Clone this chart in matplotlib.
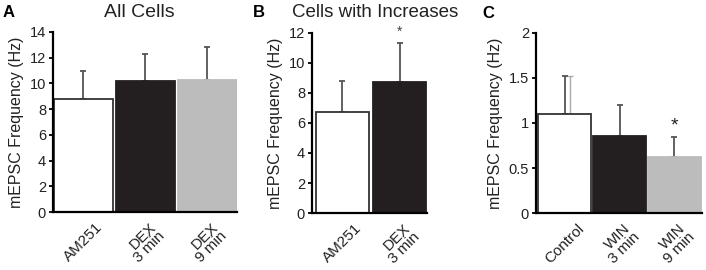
import matplotlib.pyplot as plt

plt.rcParams['font.family'] = ['Liberation Sans', 'DejaVu Sans']

# panel A: all cells
a_labels = ['AM251', 'DEX\n3 min', 'DEX\n9 min']
a_means = [8.8, 10.2, 10.3]
a_errs = [2.2, 2.1, 2.55]

# panel B: cells with increases
b_labels = ['AM251', 'DEX\n3 min']
b_means = [6.7, 8.7]
b_errs = [2.1, 2.6]

# panel C
c_labels = ['Control', 'WIN\n3 min', 'WIN\n9 min']
c_means = [1.1, 0.85, 0.62]
c_errs = [0.42, 0.35, 0.22]

face = ['white', '#231f20', '#bcbcbc']
edge = ['#333333', '#231f20', '#bcbcbc']

fig = plt.figure(figsize=(7.06, 2.70), dpi=100)
axA = fig.add_axes([0.0751, 0.2148, 0.2606, 0.6667])
axB = fig.add_axes([0.4419, 0.2111, 0.1629, 0.6667])
axC = fig.add_axes([0.7592, 0.2111, 0.2351, 0.6667])


def panel(ax, labels, means, errs, width, ymax, yticks, yticklabels, xlim):
    x = list(range(len(means)))
    ax.bar(x, means, width=width, color=face[:len(means)],
           edgecolor=edge[:len(means)], linewidth=1.3, zorder=2)
    ax.errorbar(x, means, yerr=[[0] * len(means), errs], fmt='none',
                ecolor='#555555', elinewidth=1.3, capsize=2, capthick=1.3, zorder=1)
    ax.set_ylim(0, ymax)
    ax.set_xlim(*xlim)
    ax.set_yticks(yticks)
    ax.set_yticklabels(yticklabels)
    ax.set_xticks(x)
    ax.set_xticklabels(labels, rotation=45, ha='center', va='top',
                       fontsize=11, color='#222222', linespacing=0.85,
                       multialignment='right')
    ax.tick_params(axis='x', length=0, pad=6)
    ax.tick_params(axis='y', direction='out', length=3, width=1.3,
                   labelsize=10.5, labelcolor='#222222', pad=2)
    ax.spines['top'].set_visible(False)
    ax.spines['right'].set_visible(False)
    ax.spines['left'].set_linewidth(1.6)
    ax.spines['bottom'].set_linewidth(1.6)
    ax.set_ylabel('mEPSC Frequency (Hz)', fontsize=11.5, color='#222222', labelpad=4)


panel(axA, a_labels, a_means, a_errs, 0.95, 14, range(0, 15, 2),
      [str(v) for v in range(0, 15, 2)], (-0.49, 2.48))
panel(axB, b_labels, b_means, b_errs, 0.93, 12, range(0, 13, 2),
      [str(v) for v in range(0, 13, 2)], (-0.53, 1.48))
panel(axC, c_labels, c_means, c_errs, 0.96, 2, [0, 0.5, 1, 1.5, 2],
      ['0', '0.5', '1', '1.5', '2'], (-0.52, 2.5))

# duplicated gray error bar on the control bar
axC.errorbar([0.1], [c_means[0]], yerr=[[0], [c_errs[0]]], fmt='none',
             ecolor='#aaaaaa', elinewidth=1.0, capsize=2, capthick=1.0, zorder=0)

# significance marks
axB.text(1, 12.05, '*', ha='center', va='center', fontsize=10, color='#444444')
axC.text(2, 0.97, '*', ha='center', va='center', fontsize=14, color='#222222')

# panel letters and titles
fig.text(0.004, 0.955, 'A', fontsize=12, fontweight='bold', va='center')
fig.text(0.358, 0.955, 'B', fontsize=12, fontweight='bold', va='center')
fig.text(0.683, 0.95, 'C', fontsize=12, fontweight='bold', va='center')
fig.text(0.198, 0.955, 'All Cells', fontsize=14, ha='center', va='center', color='#222222')
fig.text(0.414, 0.955, 'Cells with Increases', fontsize=13.5, ha='left', va='center', color='#222222')

fig.savefig('out.png', dpi=100)
